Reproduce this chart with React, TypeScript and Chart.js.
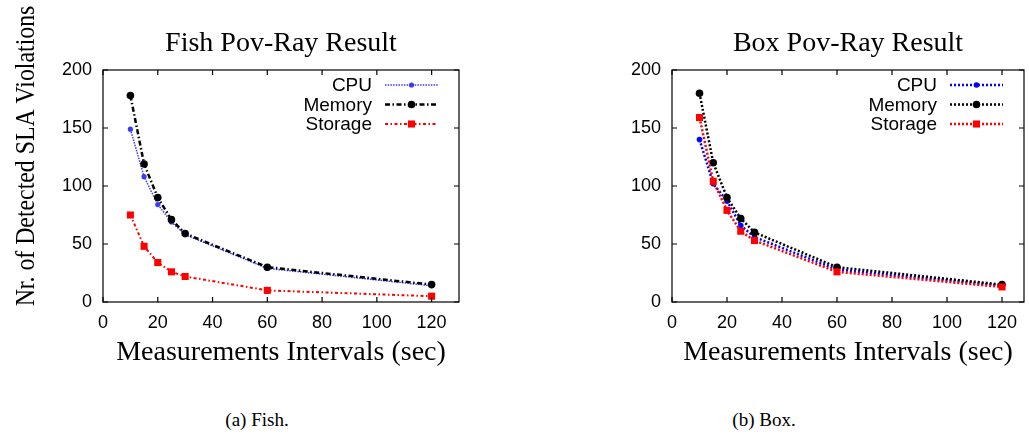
import React, { useEffect, useRef } from "react";
import { Chart, registerables } from "chart.js";

Chart.register(...registerables);

// ---------- data ----------
const intervals = [10, 15, 20, 25, 30, 60, 120];
const fishCpu = [149, 108, 84, 69, 58, 29, 14];
const fishMemory = [178, 119, 90, 71, 59, 30, 15];
const fishStorage = [75, 48, 34, 26, 22, 10, 5];
const boxCpu = [140, 102, 87, 66, 56, 28, 14];
const boxMemory = [180, 120, 90, 72, 60, 30, 15];
const boxStorage = [159, 104, 79, 61, 53, 26, 13];
const seriesNames = ["CPU", "Memory", "Storage"];
const xTickValues = [0, 20, 40, 60, 80, 100, 120];
const yTickValues = [0, 50, 100, 150, 200];
const yAxisTitle = "Nr. of Detected SLA Violations";
const xAxisTitle = "Measurements Intervals (sec)";
const panelTitles = ["Fish Pov-Ray Result", "Box Pov-Ray Result"];
const captions = ["(a) Fish.", "(b) Box."];

// ---------- styles ----------
type SeriesStyle = { color: string; width: number; dash: number[]; point: "circle" | "rect"; r: number };

const fishStyles: SeriesStyle[] = [
  { color: "#3a3aff", width: 1.5, dash: [1.5, 1.2], point: "circle", r: 2.6 },
  { color: "#000000", width: 2.5, dash: [5, 2.5, 1.5, 2.5], point: "circle", r: 3.8 },
  { color: "#ff0000", width: 2, dash: [3, 2.5, 1.5, 2.5], point: "rect", r: 5 },
];
const boxStyles: SeriesStyle[] = [
  { color: "#0000ff", width: 2.5, dash: [2, 2], point: "circle", r: 2.8 },
  { color: "#000000", width: 2.5, dash: [2, 2], point: "circle", r: 3.8 },
  { color: "#ff0000", width: 2.5, dash: [2, 2], point: "rect", r: 5 },
];

const CANVAS_H = 380;
const PLOT_TOP = 70;
const PLOT_BOTTOM = 302;
const SERIF = "'Liberation Serif', 'Times New Roman', serif";
const SANS = "'Liberation Sans', Arial, Helvetica, sans-serif";

type PanelCfg = {
  title: string;
  caption: string;
  series: number[][];
  styles: SeriesStyle[];
  xMax: number;
  left: number;
  width: number;
  plotLeft: number;
  plotRight: number;
  yTitleX: number;
  captionX: number;
};

const panels: PanelCfg[] = [
  {
    title: panelTitles[0],
    caption: captions[0],
    series: [fishCpu, fishMemory, fishStorage],
    styles: fishStyles,
    xMax: 130,
    left: 0,
    width: 514,
    plotLeft: 103,
    plotRight: 459,
    yTitleX: 34,
    captionX: 257,
  },
  {
    title: panelTitles[1],
    caption: captions[1],
    series: [boxCpu, boxMemory, boxStorage],
    styles: boxStyles,
    xMax: 128,
    left: 514,
    width: 515,
    plotLeft: 672,
    plotRight: 1024,
    yTitleX: 547,
    captionX: 764,
  },
];

function drawMarker(ctx: CanvasRenderingContext2D, s: SeriesStyle, x: number, y: number) {
  ctx.save();
  ctx.setLineDash([]);
  ctx.fillStyle = s.color;
  if (s.point === "circle") {
    ctx.beginPath();
    ctx.arc(x, y, s.r, 0, Math.PI * 2);
    ctx.fill();
  } else {
    const side = s.r * Math.SQRT2;
    ctx.fillRect(x - side / 2, y - side / 2, side, side);
  }
  ctx.restore();
}

function makeFramePlugin(p: PanelCfg) {
  return {
    id: "gnuplotFrame",
    afterDraw(chart: any) {
      const ctx: CanvasRenderingContext2D = chart.ctx;
      const { left, right, top, bottom } = chart.chartArea;
      const xs = chart.scales.x;
      const ys = chart.scales.y;
      ctx.save();
      // border
      ctx.setLineDash([]);
      ctx.strokeStyle = "#000";
      ctx.lineWidth = 1.2;
      ctx.strokeRect(left, top, right - left, bottom - top);
      // inward ticks, mirrored
      const tl = 5;
      ctx.beginPath();
      xTickValues.forEach((v) => {
        const px = xs.getPixelForValue(v);
        ctx.moveTo(px, bottom);
        ctx.lineTo(px, bottom - tl);
        ctx.moveTo(px, top);
        ctx.lineTo(px, top + tl);
      });
      yTickValues.forEach((v) => {
        const py = ys.getPixelForValue(v);
        ctx.moveTo(left, py);
        ctx.lineTo(left + tl, py);
        ctx.moveTo(right, py);
        ctx.lineTo(right - tl, py);
      });
      ctx.stroke();

      // legend
      const lineEnd = right - 21;
      const lineStart = lineEnd - 53;
      ctx.font = `19px ${SANS}`;
      ctx.textAlign = "right";
      ctx.textBaseline = "middle";
      seriesNames.forEach((name, i) => {
        const s = p.styles[i];
        const y = 85 + i * 19.5;
        ctx.fillStyle = "#000";
        ctx.fillText(name, lineStart - 13, y + 1);
        ctx.strokeStyle = s.color;
        ctx.lineWidth = s.width;
        ctx.setLineDash(s.dash);
        ctx.beginPath();
        ctx.moveTo(lineStart, y);
        ctx.lineTo(lineEnd, y);
        ctx.stroke();
        drawMarker(ctx, s, (lineStart + lineEnd) / 2, y);
      });
      ctx.setLineDash([]);

      // panel title
      const cx = (left + right) / 2;
      ctx.fillStyle = "#000";
      ctx.textAlign = "center";
      ctx.textBaseline = "alphabetic";
      ctx.font = `28px ${SERIF}`;
      ctx.fillText(p.title, cx, 51);

      // x axis title
      ctx.fillText(xAxisTitle, cx, 360);

      // y axis title (rotated, squeezed along its length)
      ctx.save();
      ctx.translate(p.yTitleX, 156);
      ctx.scale(1, 0.85);
      ctx.rotate(-Math.PI / 2);
      ctx.fillText(yAxisTitle, 0, 0);
      ctx.restore();

      ctx.restore();
    },
  };
}

function Panel({ p }: { p: PanelCfg }) {
  const ref = useRef<HTMLCanvasElement>(null);
  useEffect(() => {
    if (!ref.current) return;
    const chart = new Chart(ref.current, {
      type: "line",
      data: {
        datasets: p.series.map((vals, i) => {
          const s = p.styles[i];
          return {
            label: seriesNames[i],
            data: intervals.map((x, j) => ({ x, y: vals[j] })),
            borderColor: s.color,
            backgroundColor: s.color,
            borderWidth: s.width,
            borderDash: s.dash,
            pointStyle: s.point,
            pointRadius: s.r,
            pointBorderWidth: 0,
            pointBackgroundColor: s.color,
            pointBorderColor: s.color,
            tension: 0,
            fill: false,
            order: 2 - i,
          };
        }),
      },
      options: {
        responsive: false,
        animation: false,
        events: [],
        layout: {
          padding: { left: 0, top: PLOT_TOP, right: p.left + p.width - p.plotRight, bottom: 0 },
        },
        plugins: {
          legend: { display: false },
          tooltip: { enabled: false },
          title: { display: false },
        },
        scales: {
          x: {
            type: "linear",
            min: 0,
            max: p.xMax,
            grid: { display: false, drawTicks: false },
            border: { display: false },
            afterBuildTicks: (s: any) => {
              s.ticks = xTickValues.map((v) => ({ value: v }));
            },
            afterFit: (s: any) => {
              s.height = CANVAS_H - PLOT_BOTTOM;
            },
            ticks: {
              padding: 10,
              autoSkip: false,
              maxRotation: 0,
              color: "#000",
              font: { family: SANS, size: 18 },
            },
          },
          y: {
            type: "linear",
            min: 0,
            max: 200,
            grid: { display: false, drawTicks: false },
            border: { display: false },
            afterBuildTicks: (s: any) => {
              s.ticks = yTickValues.map((v) => ({ value: v }));
            },
            afterFit: (s: any) => {
              s.width = p.plotLeft - p.left;
            },
            ticks: {
              padding: 11,
              color: "#000",
              font: { family: SANS, size: 18 },
            },
          },
        },
      } as any,
      plugins: [makeFramePlugin(p)],
    });
    return () => chart.destroy();
  }, [p]);

  return (
    <canvas
      ref={ref}
      width={p.width}
      height={CANVAS_H}
      style={{ position: "absolute", left: p.left, top: 0, width: p.width, height: CANVAS_H }}
    />
  );
}

export default function App() {
  return (
    <div
      style={{
        position: "fixed",
        left: 0,
        top: 0,
        width: 1029,
        height: 447,
        background: "#fff",
        overflow: "hidden",
      }}
    >
      {panels.map((p, i) => (
        <Panel key={i} p={p} />
      ))}
      {panels.map((p, i) => (
        <div
          key={"c" + i}
          style={{
            position: "absolute",
            left: p.captionX - 100,
            width: 200,
            top: 409,
            textAlign: "center",
            fontFamily: SERIF,
            fontSize: 19,
            lineHeight: "22px",
            color: "#000",
          }}
        >
          {p.caption}
        </div>
      ))}
    </div>
  );
}
